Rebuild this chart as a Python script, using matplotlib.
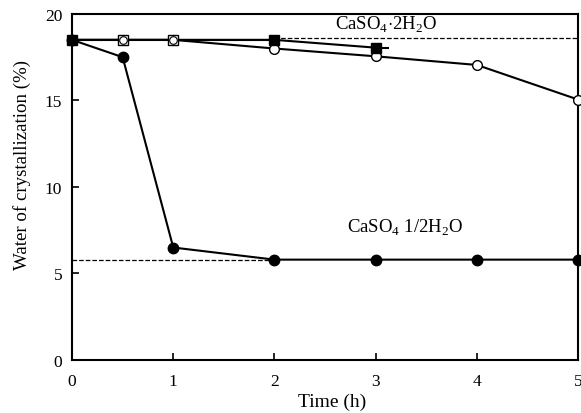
import matplotlib.pyplot as plt

plt.rcParams['font.family'] = ['Liberation Serif', 'DejaVu Serif']
plt.rcParams['mathtext.fontset'] = 'custom'
plt.rcParams['mathtext.rm'] = 'Liberation Serif'

# Data
t_filled_circ = [0, 0.5, 1, 2, 3, 4, 5]
w_filled_circ = [18.5, 17.5, 6.5, 5.8, 5.8, 5.8, 5.8]

t_open_circ = [0, 0.5, 1, 2, 3, 4, 5]
w_open_circ = [18.5, 18.5, 18.5, 18.0, 17.55, 17.05, 15.05]

t_filled_sq = [0, 2, 3]
w_filled_sq = [18.5, 18.5, 18.05]
filled_sq_xerr_right = [0, 0, 0.13]

t_open_sq = [0.5, 1]
w_open_sq = [18.5, 18.5]

dihydrate_level = 18.6
hemihydrate_level = 5.8

fig = plt.figure(figsize=(5.81, 4.14), dpi=100)
ax = fig.add_axes([0.124, 0.128, 0.871, 0.836])

# reference lines for the hydrates
ax.plot([2, 5], [dihydrate_level] * 2, ls='--', color='black', lw=0.9, zorder=1)
ax.plot([0, 2], [hemihydrate_level] * 2, ls='--', color='black', lw=0.9, zorder=1)

ax.plot(t_open_circ, w_open_circ, '-o', color='black', mfc='white', mec='black',
        ms=7, lw=1.5, mew=1.0, zorder=3, clip_on=False)
ax.plot(t_filled_circ, w_filled_circ, '-o', color='black', ms=7.5, lw=1.5,
        zorder=4, clip_on=False)
ax.errorbar(t_filled_sq, w_filled_sq, xerr=[[0, 0, 0], filled_sq_xerr_right],
            fmt='-s', color='black', ms=7.5, lw=1.5, elinewidth=1.5, capsize=0,
            zorder=5, clip_on=False)
ax.plot([0, 0.5, 1, 2], [18.5, 18.5, 18.5, 18.5], '-', color='black', lw=1.5, zorder=2)
ax.plot(t_open_sq, w_open_sq, 's', mfc='white', mec='black', ms=7, mew=1.0, zorder=6)
ax.plot(t_open_sq, w_open_sq, 'o', mfc='white', mec='black', ms=5.5, mew=0.8, zorder=7)

ax.text(3.1, 19.4, r'CaSO$_4$$\cdot$2H$_2$O', fontsize=13.5, ha='center', va='center')
ax.text(3.29, 7.7, r'CaSO$_4$ 1/2H$_2$O', fontsize=13.5, ha='center', va='center')

ax.set_xlim(0, 5)
ax.set_ylim(0, 20)
ax.set_xticks([0, 1, 2, 3, 4, 5])
ax.set_yticks([0, 5, 10, 15, 20])
ax.tick_params(direction='in', length=5, width=1.2, labelsize=12.5)
ax.tick_params(axis='x', pad=9)
ax.tick_params(axis='y', pad=7)
for s in ax.spines.values():
    s.set_linewidth(1.5)
ax.set_xlabel('Time (h)', fontsize=14, va='center')
ax.set_ylabel('Water of crystallization (%)', fontsize=13.6, va='center')
ax.xaxis.set_label_coords(0.514, -0.118)
ax.yaxis.set_label_coords(-0.099, 0.566)

fig.savefig('out.png', dpi=100)
